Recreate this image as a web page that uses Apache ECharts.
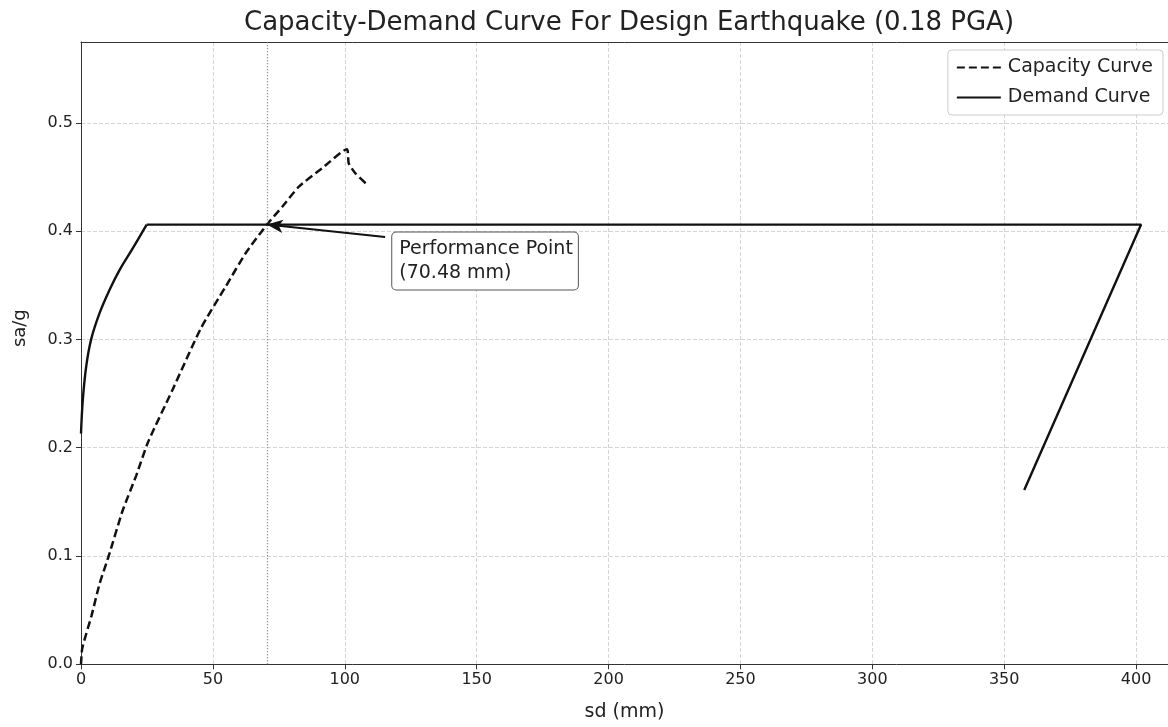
<!DOCTYPE html>
<html>
<head>
<meta charset="utf-8">
<script src="https://cdn.jsdelivr.net/npm/echarts@6/dist/echarts.min.js"></script>
<style>
  html, body { margin: 0; padding: 0; background: #fff; }
  #chart { width: 1168px; height: 727px; }
</style>
</head>
<body>
<div id="chart"></div>
<script>
// sd (mm), sa/g pairs
var capacityCurve = [
  [0, 0], [0.5, 0.015], [4, 0.045], [7, 0.074], [10.5, 0.1], [15.8, 0.142],
  [20.9, 0.174], [25.4, 0.205], [34.8, 0.254], [45.4, 0.31], [54.9, 0.349],
  [62.4, 0.3795], [70.48, 0.406], [76.3, 0.4225], [82.6, 0.441], [91.4, 0.458],
  [100.8, 0.4755], [101.5, 0.4626], [104.0, 0.4534], [108.0, 0.444]
];
// demand: rising branch, then plateau and the returning branch
var demandRise = [
  [0, 0.213], [0.68, 0.244], [1.97, 0.275], [3.85, 0.30], [7.0, 0.324],
  [10.8, 0.3456], [14.6, 0.364], [19.6, 0.384], [24.9, 0.406]
];
var demandFlat = [
  [24.9, 0.406], [401.9, 0.406], [357.6, 0.161]
];
var perfPoint = [70.48, 0.406];
var annotTail = [115.3, 0.3945];   // where the arrow leaves the text box
var annotText = [118, 0.3724];     // text box anchor
var xMax = 412.1;
var yMax = 0.5746;

var font = 'DejaVu Sans';
var spine = { show: true, onZero: false, lineStyle: { color: '#333', width: 1 } };
var gridLine = { show: true, lineStyle: { color: '#d4d4d4', type: [4, 2], width: 1 } };

var option = {
  animation: false,
  backgroundColor: '#fff',
  textStyle: { fontFamily: font },
  title: {
    text: 'Capacity-Demand Curve For Design Earthquake (0.18 PGA)',
    left: 624, top: 5, textAlign: 'center',
    textStyle: { fontFamily: font, fontSize: 26, fontWeight: 'normal', color: '#222' }
  },
  legend: {
    orient: 'vertical',
    right: 5, top: 50,
    data: ['Capacity Curve', 'Demand Curve'],
    itemWidth: 44, itemHeight: 10, itemGap: 11,
    padding: [8, 10, 8, 8],
    backgroundColor: '#fff',
    borderColor: '#ccc', borderWidth: 1, borderRadius: 4,
    itemStyle: { opacity: 0 },
    textStyle: { fontFamily: font, fontSize: 19, color: '#222', padding: [0, 0, 0, 2] }
  },
  grid: {
    left: 81, top: 42, width: 1090, height: 622.3,
    show: false
  },
  xAxis: [
    {
      type: 'value', min: 0, max: xMax, interval: 50,
      name: 'sd (mm)', nameLocation: 'middle', nameGap: 38,
      nameTextStyle: { fontFamily: font, fontSize: 19, color: '#222' },
      axisLine: spine,
      axisTick: { show: true, length: 5, lineStyle: { color: '#333' } },
      axisLabel: { showMaxLabel: false, margin: 8, fontSize: 16, color: '#222', fontFamily: font },
      splitLine: gridLine
    },
    {
      type: 'value', position: 'top', min: 0, max: xMax,
      axisLine: spine, axisTick: { show: false }, axisLabel: { show: false },
      splitLine: { show: false }
    }
  ],
  yAxis: {
    type: 'value', min: 0, max: yMax, interval: 0.1,
    name: 'sa/g', nameLocation: 'middle', nameGap: 52,
    nameTextStyle: { fontFamily: font, fontSize: 18, color: '#222', padding: [0, 0, 0, 50] },
    axisLine: spine,
    axisTick: { show: true, length: 5, lineStyle: { color: '#333' } },
    axisLabel: {
      showMaxLabel: false, margin: 8, fontSize: 16, color: '#222', fontFamily: font,
      formatter: function (v) { return v.toFixed(1); }
    },
    splitLine: gridLine
  },
  series: [
    {
      name: 'Capacity Curve',
      type: 'line',
      data: capacityCurve,
      symbol: 'none',
      smooth: 0.2,
      color: '#111',
      lineStyle: { color: '#111', width: 2.5, type: [8, 4] },
      markLine: {
        silent: true,
        symbol: 'none',
        label: { show: false },
        lineStyle: { color: '#777', type: [1, 2], width: 1.3 },
        data: [{ xAxis: perfPoint[0] }]
      },
      z: 3
    },
    {
      name: 'Demand Curve',
      type: 'line',
      data: demandRise,
      symbol: 'none',
      smooth: 0.4,
      color: '#111',
      lineStyle: { color: '#111', width: 2.4 },
      z: 4
    },
    {
      name: 'Demand Curve',
      type: 'line',
      data: demandFlat,
      symbol: 'none',
      color: '#111',
      lineStyle: { color: '#111', width: 2.4 },
      markLine: {
        silent: true,
        symbol: ['none', 'arrow'],
        symbolSize: [10, 16],
        label: { show: false },
        lineStyle: { color: '#111', type: 'solid', width: 2 },
        data: [[{ coord: annotTail }, { coord: perfPoint }]]
      },
      markPoint: {
        silent: true,
        symbol: 'rect',
        symbolSize: 0,
        data: [{ coord: annotText }],
        label: {
          show: true,
          position: 'right',
          distance: 0,
          formatter: 'Performance Point\n(' + perfPoint[0].toFixed(2) + ' mm)',
          fontFamily: font,
          fontSize: 19,
          lineHeight: 24,
          color: '#222',
          align: 'left',
          backgroundColor: '#fff',
          borderColor: '#555',
          borderWidth: 1,
          borderRadius: 4,
          padding: [5, 5, 4, 7]
        }
      },
      z: 4
    }
  ]
};

var chart = echarts.init(document.getElementById('chart'));
chart.setOption(option);
</script>
</body>
</html>
